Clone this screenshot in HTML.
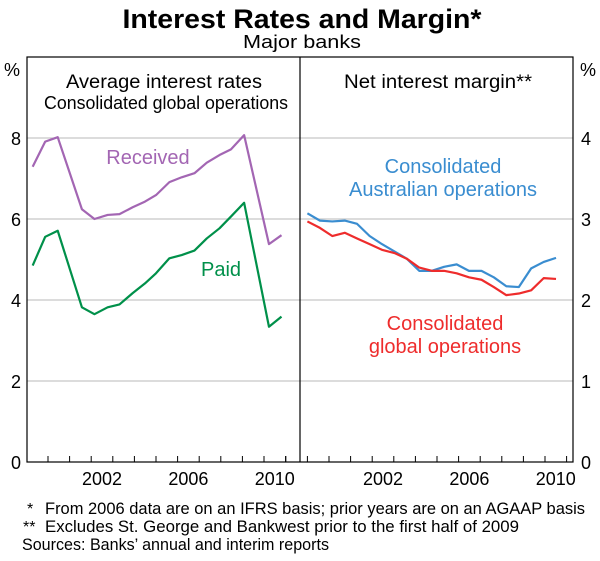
<!DOCTYPE html>
<html><head><meta charset="utf-8"><style>
body{margin:0;background:#fff;}
svg text{font-family:"Liberation Sans",Arial,sans-serif;}
</style></head><body>
<svg id="c" width="600" height="556" xmlns="http://www.w3.org/2000/svg">
<text x="302" y="28" text-anchor="middle" textLength="359" lengthAdjust="spacingAndGlyphs" font-size="27" font-weight="bold">Interest Rates and Margin*</text>
<text x="302" y="48" text-anchor="middle" textLength="118" lengthAdjust="spacingAndGlyphs" font-size="18.5">Major banks</text>
<g id="grid"></g>
<g id="series"></g>
<rect x="27" y="57" width="546" height="405" fill="none" stroke="#000" stroke-width="1.2"/>
<line x1="300" y1="57" x2="300" y2="462" stroke="#000" stroke-width="1.2"/>
<g id="axes"></g>
<text x="4" y="76" font-size="18">%</text>
<text x="580" y="76" font-size="18">%</text>
<text x="164" y="88" text-anchor="middle" textLength="196" lengthAdjust="spacingAndGlyphs" font-size="19">Average interest rates</text>
<text x="166" y="109" text-anchor="middle" textLength="244" lengthAdjust="spacingAndGlyphs" font-size="18">Consolidated global operations</text>
<text x="438" y="88" text-anchor="middle" textLength="188" lengthAdjust="spacingAndGlyphs" font-size="19">Net interest margin**</text>
<text x="148" y="164" text-anchor="middle" font-size="20" fill="#a366b3">Received</text>
<text x="221" y="276" text-anchor="middle" font-size="20" fill="#00904a">Paid</text>
<text x="443" y="173" text-anchor="middle" font-size="20" fill="#3a8dd0">Consolidated</text>
<text x="443" y="196" text-anchor="middle" font-size="20" fill="#3a8dd0">Australian operations</text>
<text x="445" y="330" text-anchor="middle" font-size="20" fill="#ee2c2c">Consolidated</text>
<text x="445" y="353" text-anchor="middle" font-size="20" fill="#ee2c2c">global operations</text>
<text x="27" y="514" font-size="16">*</text>
<text x="45" y="514" textLength="540" lengthAdjust="spacingAndGlyphs" font-size="16.5">From 2006 data are on an IFRS basis; prior years are on an AGAAP basis</text>
<text x="23" y="532" font-size="16">**</text>
<text x="45" y="532" textLength="474" lengthAdjust="spacingAndGlyphs" font-size="16.5">Excludes St. George and Bankwest prior to the first half of 2009</text>
<text x="22" y="550" textLength="307" lengthAdjust="spacingAndGlyphs" font-size="16.5">Sources: Banks’ annual and interim reports</text>
</svg>
<script>
const leftYears=[1998.79,1999.37,1999.95,2001.07,2001.65,2002.26,2002.81,2003.42,2003.99,2004.5,2005.12,2005.69,2006.28,2006.85,2007.44,2007.97,2008.58,2009.73,2010.31];
const received=[7.29,7.91,8.02,6.24,6.0,6.1,6.12,6.29,6.43,6.59,6.91,7.03,7.13,7.39,7.58,7.72,8.07,5.38,5.6];
const paid=[4.85,5.56,5.71,3.82,3.65,3.82,3.89,4.17,4.41,4.66,5.03,5.11,5.22,5.52,5.77,6.06,6.40,3.34,3.59];
const rightYears=[1998.50,1999.08,1999.65,2000.23,2000.80,2001.38,2001.95,2002.53,2003.10,2003.68,2004.26,2004.83,2005.41,2005.98,2006.56,2007.13,2007.71,2008.29,2008.86,2009.44,2010.01];
const australianNim=[3.07,2.98,2.97,2.98,2.94,2.79,2.69,2.60,2.51,2.36,2.36,2.41,2.44,2.36,2.36,2.28,2.17,2.16,2.39,2.47,2.52];
const globalNim=[2.97,2.89,2.79,2.83,2.76,2.69,2.62,2.58,2.51,2.40,2.36,2.36,2.33,2.28,2.25,2.16,2.06,2.08,2.12,2.27,2.26];
const leftTicks=["0","2","4","6","8"];
const rightTicks=["0","1","2","3","4"];
const yearTicks=["2002","2006","2010"];
const NS="http://www.w3.org/2000/svg";
const xL=y=>102+(y-2002)*21.6;
const xR=y=>383+(y-2002)*21.6;
const yL=v=>462-v*40.5;
const yR=v=>462-v*81;
function mk(t,a,p){const e=document.createElementNS(NS,t);for(const k in a)e.setAttribute(k,a[k]);p.appendChild(e);return e;}
const grid=document.getElementById('grid'),axes=document.getElementById('axes'),ser=document.getElementById('series');
leftTicks.forEach(t=>{
  const v=+t;
  if(v>0){const g=mk('line',{x1:27,x2:573,y1:yL(v),y2:yL(v),stroke:'#c8c8c8','stroke-width':1.2},grid);
  
  }
  const a=mk('text',{x:21,y:yL(v)+7,'text-anchor':'end','font-size':18},axes);a.textContent=t;
  
  
});
rightTicks.forEach(t=>{
  const v=+t;
  const a=mk('text',{x:581,y:yR(v)+7,'font-size':18},axes);a.textContent=t;
  
  
});
for(let y=1998;y<=2011;y++){
  [xL(y-0.5),xR(y-0.5)].forEach(x=>{
    if(x>28&&x<572&&Math.abs(x-300)>1){
      const tk=mk('line',{x1:x,x2:x,y1:462,y2:456,stroke:'#000','stroke-width':1},axes);
      
      
    }
  });
}
yearTicks.forEach(t=>{
  const y=+t;
  [xL(y),xR(y)].forEach((x,j)=>{
    const a=mk('text',{x:x,y:485,'text-anchor':'middle','font-size':18},axes);a.textContent=t;
    
    
  });
});
function line(xs,vs,fx,fy,col,name){
  const p=mk('polyline',{points:xs.map((x,i)=>fx(x)+','+fy(vs[i])).join(' '),fill:'none',stroke:col,'stroke-width':2.2,'stroke-linejoin':'round'},ser);
  
  
}
line(leftYears,received,xL,yL,'#a366b3','received-line');
line(leftYears,paid,xL,yL,'#00904a','paid-line');
line(rightYears,australianNim,xR,yR,'#3a8dd0','australian-nim-line');
line(rightYears,globalNim,xR,yR,'#ee2c2c','global-nim-line');
</script>
</body></html>
